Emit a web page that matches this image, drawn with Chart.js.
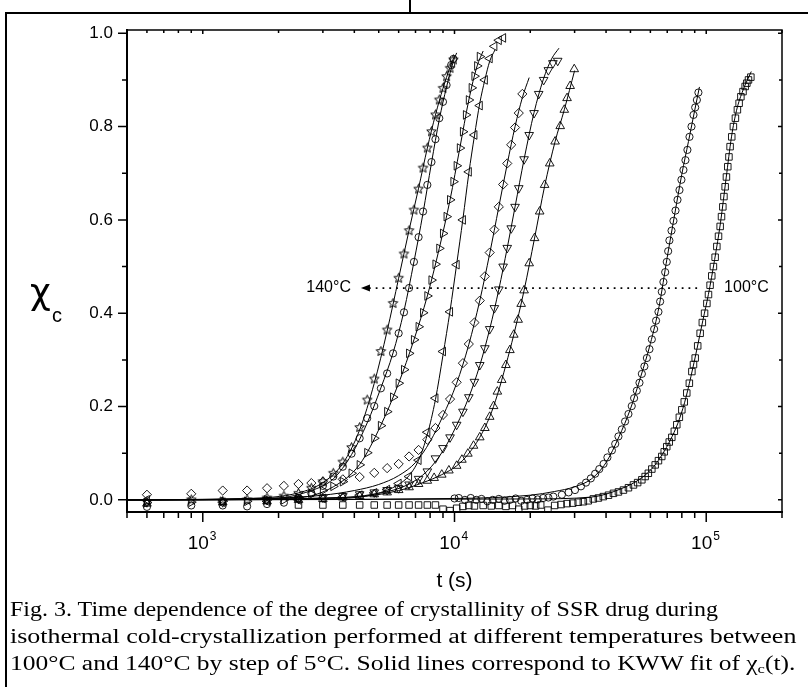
<!DOCTYPE html>
<html lang="en">
<head>
<meta charset="UTF-8" />
<title>Crystallinity vs time</title>
<script src="https://cdn.jsdelivr.net/npm/chart.js@4"></script>
<style>
  body { margin: 0; width: 808px; height: 687px; background: #fff; position: relative; overflow: hidden; }
  #wrap { position: absolute; left: 0; top: 0; width: 808px; height: 600px; }
  .rule { position: absolute; background: #000; }
  #caption {
    position: absolute; left: 10px; top: 596px; width: 790px;
    font-family: "Times New Roman", "Liberation Serif", serif; font-size: 20px; line-height: 27px; color: #000;
    white-space: nowrap;
  }
  #caption div { transform-origin: 0 0; height: 27px; }
  #caption sub { font-size: 13px; vertical-align: -3px; line-height: 0; }
</style>
</head>
<body>
<div class="rule" style="left:5px;top:12px;width:2px;height:675px"></div>
<div class="rule" style="left:5px;top:12px;width:803px;height:2px"></div>
<div class="rule" style="left:409px;top:0;width:2px;height:12px"></div>
<div id="wrap"><canvas id="chart" width="808" height="600"></canvas></div>
<div id="caption">
  <div style="transform:scaleX(1.2)">Fig. 3. Time dependence of the degree of crystallinity of SSR drug during</div>
  <div style="transform:scaleX(1.3)">isothermal cold-crystallization performed at different temperatures between</div>
  <div style="transform:scaleX(1.275)">100°C and 140°C by step of 5°C. Solid lines correspond to KWW fit of χ<sub>c</sub>(t).</div>
</div>
<script>
// ---- measured points (t in s, chi_c) ----
var t140 = [600,900,1200,1500,1800,2100,2400,2700,3000,3300,3600,3900,4200,4500,4800,5100,5400,5700,6000,6300,6600,6900,7200,7500,7800,8100,8400,8700,9000,9300,9600,9900];
var y140 = [-0.004,0.0,-0.003,0.0,0.004,0.008,0.014,0.025,0.039,0.057,0.081,0.112,0.155,0.214,0.259,0.318,0.364,0.421,0.475,0.527,0.577,0.621,0.666,0.711,0.754,0.789,0.825,0.857,0.882,0.907,0.925,0.943];

var t135 = [600,900,1200,1500,1800,2100,2400,2700,3000,3300,3600,3900,4200,4500,4800,5100,5400,5700,6000,6300,6600,6900,7200,7500,7800,8100,8400,8700,9000,9300,9700,9900];
var y135 = [-0.015,-0.012,-0.012,-0.014,-0.009,-0.006,0.004,0.014,0.03,0.05,0.071,0.099,0.132,0.175,0.201,0.239,0.271,0.314,0.357,0.402,0.454,0.51,0.563,0.618,0.675,0.724,0.773,0.818,0.853,0.889,0.932,0.945];

var t130 = [600,900,1200,1500,1800,2100,2400,2700,3000,3300,3600,3900,4200,4500,4800,5100,5400,5700,6000,6300,6600,6900,7200,7500,7800,8100,8400,8700,9000,9300,9600,9900,10200,10500,10800,11100,11400,11700,12000,12300,12600];
var y130 = [-0.006,-0.005,-0.003,-0.003,0.0,0.0,0.005,0.012,0.02,0.029,0.039,0.057,0.075,0.101,0.132,0.159,0.189,0.22,0.25,0.279,0.314,0.343,0.371,0.401,0.437,0.471,0.505,0.539,0.571,0.607,0.643,0.682,0.716,0.754,0.789,0.825,0.857,0.883,0.908,0.93,0.95];

var t125 = [600,1200,1800,2400,3000,3600,4200,4800,5400,6000,6600,7200,7800,8400,9000,9600,10200,10800,11400,12000,12600,13200,13800,14400,15000,15600];
var y125 = [0.0,-0.005,-0.003,0.0,0.003,0.006,0.01,0.015,0.022,0.035,0.05,0.085,0.145,0.218,0.318,0.403,0.504,0.6,0.703,0.782,0.845,0.9,0.946,0.972,0.985,0.99];

var t120 = [600,900,1200,1500,1800,2100,2400,2700,3000,3600,4200,4800,5400,6000,6600,7200,7800,8400,9000,9600,10200,10800,11400,12000,12600,13200,13800,14400,15000,15600,16200,16800,17400,18000,18600];
var y120 = [0.011,0.013,0.02,0.02,0.025,0.03,0.034,0.036,0.039,0.044,0.049,0.058,0.068,0.077,0.093,0.107,0.129,0.154,0.182,0.216,0.252,0.293,0.334,0.38,0.427,0.479,0.53,0.579,0.628,0.676,0.721,0.761,0.798,0.829,0.87];

var t115 = [600,1200,1800,2400,3000,3600,4200,4800,5400,6000,6600,7200,7800,8400,9000,9600,10200,10800,11400,12000,12600,13200,13800,14400,15000,15600,16200,16800,17400,18000,18900,19800,20700,21600,22600,23600,24600,25700];
var y115 = [-0.005,-0.005,0.0,0.002,0.005,0.008,0.012,0.016,0.021,0.025,0.033,0.045,0.061,0.089,0.111,0.134,0.161,0.189,0.22,0.253,0.289,0.325,0.366,0.411,0.451,0.5,0.54,0.582,0.628,0.668,0.73,0.782,0.829,0.87,0.9,0.921,0.936,0.941];

var t110 = [600,1200,1800,2400,3000,3600,4200,4800,5400,6000,6600,7200,7800,8300,8900,9500,10200,10700,11300,11900,12600,13200,13800,14300,14800,15400,16000,16600,17200,17900,18400,18900,19800,20800,21800,22800,23900,25100,26300,27300,28000,28800,29900];
var y110 = [-0.008,-0.005,-0.003,0.0,0.002,0.005,0.008,0.012,0.016,0.021,0.027,0.034,0.041,0.047,0.054,0.063,0.073,0.086,0.099,0.116,0.134,0.154,0.178,0.201,0.232,0.257,0.289,0.321,0.354,0.386,0.42,0.449,0.507,0.561,0.618,0.675,0.721,0.768,0.801,0.836,0.861,0.887,0.923];

var t105 = [10000,10400,11000,11600,12200,12800,13500,14200,15000,15800,16600,17500,18400,19400,20400,21400,22500,23600,24700,26700,28400,30100,31800,33300,34800,36200,37600,39100,40500,42200,43500,44800,46200,47600,49100,50600,51700,53000,54300,55500,56800,58100,59500,60800,62100,63200,64600,65600,66600,67600,68700,69700,70600,71400,72800,74100,75500,76900,78300,79700,81200,82700,84200,85800,87400,89000,90400,91800,93100];
var y105 = [0.003,0.004,0.0,0.004,0.0,0.002,-0.003,0.0,0.002,-0.002,0.0,0.003,-0.002,0.0,0.003,0.001,0.004,0.005,0.007,0.011,0.016,0.021,0.029,0.037,0.046,0.056,0.066,0.077,0.091,0.106,0.12,0.136,0.151,0.168,0.184,0.201,0.218,0.234,0.251,0.27,0.286,0.304,0.323,0.344,0.366,0.384,0.403,0.425,0.446,0.467,0.488,0.51,0.533,0.556,0.577,0.598,0.62,0.643,0.664,0.686,0.707,0.728,0.75,0.778,0.8,0.825,0.841,0.857,0.873];

var t100 = [2400,3000,3600,4200,4800,5400,6000,6600,7200,7800,8400,9000,9600,10200,10800,11400,12000,13000,14000,15000,16000,17000,18000,19000,20000,21000,22000,23500,25000,26500,28000,29500,31000,32500,34000,35600,37300,39000,40900,42800,44800,46900,49100,51400,53400,55500,57200,58900,60800,62700,64600,66600,68100,69700,71300,73000,74700,76400,78200,80000,81800,83700,85700,87700,89000,90400,92500,94600,96500,98500,100600,102100,103600,105200,106800,108500,110200,111900,113600,115000,116400,117600,118900,120300,121800,123100,124400,126300,128200,130600,133000,135100,137300,140000,142800,145000,147200,150400];
var y100 = [-0.011,-0.011,-0.011,-0.011,-0.011,-0.011,-0.011,-0.011,-0.011,-0.011,-0.011,-0.02,-0.023,-0.018,-0.014,-0.012,-0.013,-0.012,-0.013,-0.012,-0.014,-0.012,-0.02,-0.013,-0.012,-0.013,-0.011,-0.022,-0.012,-0.01,-0.008,-0.007,-0.005,-0.004,-0.002,0.002,0.004,0.007,0.01,0.014,0.017,0.021,0.026,0.032,0.037,0.043,0.05,0.057,0.066,0.075,0.084,0.093,0.103,0.114,0.124,0.134,0.147,0.161,0.177,0.193,0.21,0.229,0.25,0.275,0.29,0.304,0.33,0.357,0.38,0.4,0.421,0.44,0.46,0.48,0.5,0.52,0.543,0.565,0.586,0.607,0.628,0.65,0.671,0.692,0.714,0.735,0.757,0.778,0.8,0.818,0.836,0.85,0.864,0.875,0.886,0.893,0.9,0.906];

// ---- KWW fit curves ----
var fit140T = [500,1500,2400,3000,3600,4200,4800,5400,6000,6600,7200,7800,8400,9000,9600,10000];
var fit140Y = [0,0.003,0.015,0.037,0.078,0.15,0.25,0.362,0.475,0.578,0.668,0.754,0.825,0.882,0.927,0.952];
var fit135T = [500,1800,2700,3300,3900,4500,5100,5700,6300,6900,7500,8100,8700,9300,9900,10200];
var fit135Y = [0,0.002,0.02,0.045,0.097,0.165,0.24,0.315,0.405,0.51,0.615,0.722,0.815,0.885,0.94,0.958];
var fit130T = [500,2400,3300,4200,5100,6000,6900,7800,8700,9600,10500,11400,12300,13000];
var fit130Y = [0,0.005,0.028,0.076,0.16,0.25,0.343,0.437,0.539,0.643,0.754,0.857,0.93,0.962];
var fit125T = [500,3000,4800,6000,6600,7200,7800,8400,9000,9600,10200,10800,11400,12000,12600,13200,13800,14500];
var fit125Y = [0,0.002,0.012,0.033,0.052,0.085,0.14,0.215,0.31,0.405,0.505,0.602,0.7,0.78,0.85,0.9,0.94,0.965];
var fit120T = [500,2000,3000,4000,5000,6000,7000,8000,9000,10200,11400,12600,13800,15000,16200,17400,18600,19800];
var fit120Y = [0,0.004,0.01,0.02,0.033,0.052,0.08,0.125,0.18,0.25,0.333,0.427,0.528,0.628,0.72,0.8,0.862,0.905];
var fit115T = [500,3000,5000,6500,7800,9000,10200,11400,12600,13800,15000,16200,17400,18900,20700,22500,24300,26000];
var fit115Y = [0,0.003,0.014,0.032,0.062,0.105,0.16,0.22,0.288,0.366,0.451,0.54,0.628,0.73,0.83,0.9,0.945,0.968];
var fit110T = [500,4000,6000,7500,8900,10200,11300,12600,13800,14800,16000,17200,18900,20800,22800,25100,27300,30000];
var fit110Y = [0,0.006,0.02,0.037,0.054,0.073,0.097,0.134,0.178,0.225,0.289,0.354,0.449,0.561,0.672,0.768,0.836,0.92];
var fit105T = [500,10000,20000,25000,30000,35000,40000,45000,50000,55000,60000,65000,70000,75000,80000,85000,90000,94000];
var fit105Y = [0,0.003,0.01,0.018,0.028,0.045,0.08,0.135,0.195,0.265,0.335,0.415,0.52,0.613,0.698,0.768,0.835,0.885];
var fit100T = [500,20000,35000,46000,55000,62000,67000,72000,77000,82000,87000,92000,97000,102000,108000,114000,120000,126000,132000,140000,151000];
var fit100Y = [0,0.002,0.006,0.024,0.046,0.072,0.098,0.128,0.163,0.208,0.265,0.325,0.385,0.44,0.515,0.595,0.69,0.778,0.835,0.878,0.918];

// axis ticks and annotation
var xDecades = [1000, 10000, 100000];
var xExponents = ['3', '4', '5'];
var yTicks = [0, 0.2, 0.4, 0.6, 0.8, 1.0];
var yMinorTicks = [0.1, 0.3, 0.5, 0.7, 0.9];
var arrowLevel = 0.454;
var arrowFrom = 92000, arrowTo = 4250;
var leftLabel = '140°C', rightLabel = '100°C';

function starMarker(r) {
  var c = document.createElement('canvas');
  var s = Math.ceil(r * 2 + 3);
  c.width = c.height = s;
  var g = c.getContext('2d');
  g.strokeStyle = '#000'; g.lineWidth = 1;
  g.beginPath();
  for (var i = 0; i < 10; i++) {
    var a = -Math.PI / 2 + i * Math.PI / 5;
    var rr = i % 2 ? r * 0.45 : r;
    g.lineTo(s / 2 + rr * Math.cos(a), s / 2 + rr * Math.sin(a));
  }
  g.closePath(); g.stroke();
  return c;
}

function pts(ts, ys) { return ts.map(function (t, i) { return { x: t, y: ys[i] }; }); }

var series = [
  { t: t140, y: y140, ft: fit140T, fy: fit140Y, style: starMarker(5), rot: 0, r: 5 },
  { t: t135, y: y135, ft: fit135T, fy: fit135Y, style: 'circle', rot: 0, r: 3.6 },
  { t: t130, y: y130, ft: fit130T, fy: fit130Y, style: 'triangle', rot: 90, r: 5 },
  { t: t125, y: y125, ft: fit125T, fy: fit125Y, style: 'triangle', rot: 270, r: 5 },
  { t: t120, y: y120, ft: fit120T, fy: fit120Y, style: 'rectRot', rot: 0, r: 4.6 },
  { t: t115, y: y115, ft: fit115T, fy: fit115Y, style: 'triangle', rot: 180, r: 5 },
  { t: t110, y: y110, ft: fit110T, fy: fit110Y, style: 'triangle', rot: 0, r: 5 },
  { t: t105, y: y105, ft: fit105T, fy: fit105Y, style: 'circle', rot: 0, r: 3.6 },
  { t: t100, y: y100, ft: fit100T, fy: fit100Y, style: 'rect', rot: 0, r: 4.6 }
];

var datasets = [];
series.forEach(function (s) {
  datasets.push({
    data: pts(s.t, s.y), showLine: false,
    pointStyle: s.style, pointRotation: s.rot, pointRadius: s.r,
    pointBorderColor: '#000', pointBackgroundColor: 'rgba(0,0,0,0)', pointBorderWidth: 0.9
  });
  datasets.push({
    data: pts(s.ft, s.fy), showLine: true, pointRadius: 0,
    borderColor: '#000', borderWidth: 1, cubicInterpolationMode: 'monotone'
  });
});

var FONT = 'Arial, "Liberation Sans", sans-serif';

var decorations = {
  id: 'decorations',
  afterDatasetsDraw: function (chart) {
    var ctx = chart.ctx, a = chart.chartArea, x = chart.scales.x, y = chart.scales.y;
    ctx.save();
    ctx.strokeStyle = '#000';
    // frame
    ctx.lineWidth = 1.5;
    ctx.strokeRect(a.left, a.top, a.right - a.left, a.bottom - a.top);
    ctx.lineWidth = 2;
    ctx.beginPath();
    ctx.moveTo(a.left, a.top - 1); ctx.lineTo(a.left, a.bottom + 1);
    ctx.moveTo(a.left - 1, a.bottom); ctx.lineTo(a.right + 1, a.bottom);
    ctx.stroke();

    // y ticks
    ctx.lineWidth = 1.5;
    ctx.beginPath();
    yTicks.forEach(function (v) {
      var py = y.getPixelForValue(v);
      ctx.moveTo(a.left - 9, py); ctx.lineTo(a.left, py);
      ctx.moveTo(a.right, py); ctx.lineTo(a.right - 4, py);
    });
    yMinorTicks.forEach(function (v) {
      var py = y.getPixelForValue(v);
      ctx.moveTo(a.left - 5, py); ctx.lineTo(a.left, py);
      ctx.moveTo(a.right, py); ctx.lineTo(a.right - 3, py);
    });
    // x ticks (log)
    for (var d = 100; d <= 100000; d *= 10) {
      for (var m = 1; m <= 9; m++) {
        var v = d * m;
        if (v < x.min || v > x.max) continue;
        var px = x.getPixelForValue(v);
        var len = m === 1 ? 10 : 6;
        ctx.moveTo(px, a.bottom); ctx.lineTo(px, a.bottom + len);
        ctx.moveTo(px, a.top); ctx.lineTo(px, a.top + (m === 1 ? 4 : 3));
      }
    }
    ctx.stroke();

    // x tick labels 10^n
    ctx.fillStyle = '#000';
    ctx.textBaseline = 'alphabetic';
    xDecades.forEach(function (v, i) {
      var px = x.getPixelForValue(v);
      ctx.font = '19px ' + FONT;
      ctx.textAlign = 'right';
      ctx.fillText('10', px + 6, a.bottom + 37);
      ctx.font = '12px ' + FONT;
      ctx.textAlign = 'left';
      ctx.fillText(xExponents[i], px + 7, a.bottom + 28);
    });

    // axis titles
    ctx.font = '21px ' + FONT;
    ctx.textAlign = 'center';
    ctx.fillText('t (s)', (a.left + a.right) / 2, 587);
    ctx.textAlign = 'left';
    ctx.font = '36px "DejaVu Sans", ' + FONT;
    ctx.fillText('χ', 30, 304);
    ctx.font = '20px ' + FONT;
    ctx.fillText('c', 52, 322);

    // dotted arrow between the two temperatures
    var ay = y.getPixelForValue(arrowLevel);
    var x1 = x.getPixelForValue(arrowFrom), x0 = x.getPixelForValue(arrowTo);
    ctx.lineWidth = 1.8;
    ctx.setLineDash([1.8, 5]);
    ctx.beginPath();
    ctx.moveTo(x1, ay); ctx.lineTo(x0 + 8, ay);
    ctx.stroke();
    ctx.setLineDash([]);
    ctx.beginPath();
    ctx.moveTo(x0, ay); ctx.lineTo(x0 + 9, ay - 3.5); ctx.lineTo(x0 + 9, ay + 3.5); ctx.closePath();
    ctx.fill();
    ctx.font = '16px ' + FONT;
    ctx.textBaseline = 'middle';
    ctx.textAlign = 'right';
    ctx.fillText(leftLabel, x0 - 10, ay);
    ctx.textAlign = 'left';
    ctx.fillText(rightLabel, x1 + 27, ay);
    ctx.restore();
  }
};

new Chart(document.getElementById('chart'), {
  type: 'scatter',
  data: { datasets: datasets },
  options: {
    responsive: false,
    animation: false,
    layout: { padding: { top: 30, right: 26, left: 0, bottom: 0 } },
    plugins: { legend: { display: false }, tooltip: { enabled: false } },
    scales: {
      x: {
        type: 'logarithmic', min: 500, max: 200000,
        grid: { display: false, drawTicks: false },
        border: { display: false },
        ticks: { display: false },
        afterFit: function (s) { s.height = 88; }
      },
      y: {
        min: -0.026, max: 1.007,
        grid: { display: false, drawTicks: false },
        border: { display: false },
        afterBuildTicks: function (s) { s.ticks = yTicks.map(function (v) { return { value: v }; }); },
        ticks: {
          color: '#000', padding: 14, font: { family: FONT, size: 17 },
          callback: function (v) { return Number(v).toFixed(1); }
        },
        afterFit: function (s) { s.width = 127; }
      }
    }
  },
  plugins: [decorations]
});
</script>
</body>
</html>
